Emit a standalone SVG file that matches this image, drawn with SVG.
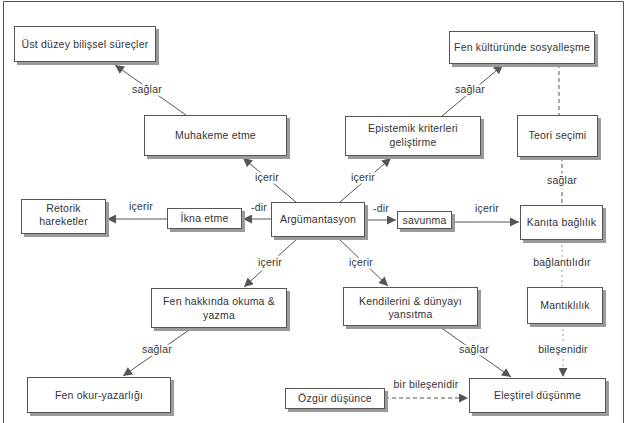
<svg xmlns="http://www.w3.org/2000/svg" width="627" height="423" viewBox="0 0 627 423">
<defs>
<marker id="arr" viewBox="0 0 10 10" refX="10" refY="5" markerWidth="11" markerHeight="9" markerUnits="userSpaceOnUse" orient="auto">
<path d="M0,0 L10,5 L0,10 z" fill="#555"/>
</marker>
<style>
.sh{fill:#9a9a9a}
.bx{fill:#fff;stroke:#555;stroke-width:1}
.t{font-family:"Liberation Sans",Arial,sans-serif;font-size:10.5px;letter-spacing:0.2px;fill:#333;text-anchor:middle}
.lb{font-family:"Liberation Sans",Arial,sans-serif;font-size:10.5px;letter-spacing:0.2px;fill:#333;text-anchor:middle;stroke:#fff;stroke-width:5;paint-order:stroke;stroke-linejoin:round}
.ln{fill:none;stroke:#555;stroke-width:1}
.ds{fill:none;stroke:#555;stroke-width:1;stroke-dasharray:4,3}
.dt{fill:none;stroke:#999;stroke-width:1;stroke-dasharray:2,3}
</style>
</defs>
<rect x="0" y="0" width="627" height="423" fill="#fff"/>
<path d="M3.5,425 V1.5 H623.5 V425" fill="none" stroke="#555" stroke-width="1"/>

<g id="connectors">
<line class="ln" x1="186" y1="115" x2="115" y2="65" marker-end="url(#arr)"/>
<text class="lb" x="147" y="93">sağlar</text>
<line class="ln" x1="296" y1="202" x2="243" y2="158" marker-end="url(#arr)"/>
<text class="lb" x="267" y="181">içerir</text>
<line class="ln" x1="340" y1="202" x2="391" y2="158" marker-end="url(#arr)"/>
<text class="lb" x="363" y="181">içerir</text>
<line class="ln" x1="442" y1="116" x2="503" y2="65" marker-end="url(#arr)"/>
<text class="lb" x="470" y="93">sağlar</text>
<line class="ds" x1="559" y1="64" x2="559" y2="115"/>
<line class="ds" x1="562" y1="157" x2="562" y2="205"/>
<text class="lb" x="562" y="184">sağlar</text>
<line class="ln" x1="271" y1="219" x2="243" y2="219" marker-end="url(#arr)"/>
<text class="lb" x="259" y="211">-dir</text>
<line class="ln" x1="167" y1="219" x2="107" y2="219" marker-end="url(#arr)"/>
<text class="lb" x="141" y="210">içerir</text>
<line class="ln" x1="365" y1="220" x2="396" y2="220" marker-end="url(#arr)"/>
<text class="lb" x="381" y="212">-dir</text>
<line class="ln" x1="452" y1="222" x2="519" y2="222" marker-end="url(#arr)"/>
<text class="lb" x="487" y="212">içerir</text>
<line class="dt" x1="562" y1="240" x2="562" y2="287"/>
<text class="lb" x="562" y="266">bağlantılıdır</text>
<line class="dt" x1="563" y1="324" x2="563" y2="377" marker-end="url(#arr)"/>
<text class="lb" x="563" y="353">bileşenidir</text>
<line class="ln" x1="298" y1="238" x2="244" y2="287" marker-end="url(#arr)"/>
<text class="lb" x="270" y="266">içerir</text>
<line class="ln" x1="338" y1="238" x2="388" y2="286" marker-end="url(#arr)"/>
<text class="lb" x="361" y="266">içerir</text>
<line class="ln" x1="192" y1="328" x2="123" y2="376" marker-end="url(#arr)"/>
<text class="lb" x="157" y="353">sağlar</text>
<line class="ln" x1="440" y1="327" x2="511" y2="377" marker-end="url(#arr)"/>
<text class="lb" x="474" y="353">sağlar</text>
<line class="ds" x1="385" y1="398" x2="468" y2="398" marker-end="url(#arr)"/>
<text class="lb" x="426" y="388">bir bileşenidir</text>
</g>

<g id="n-ust">
<rect class="sh" x="17" y="29" width="142" height="36"/>
<rect class="bx" x="14.5" y="26.5" width="141" height="35"/>
<text class="t" x="85" y="47.5">Üst düzey bilişsel süreçler</text>
</g>
<g id="n-muhakeme">
<rect class="sh" x="147" y="118" width="143" height="41"/>
<rect class="bx" x="144.5" y="115.5" width="142" height="40"/>
<text class="t" x="215.5" y="139">Muhakeme etme</text>
</g>
<g id="n-epistemik">
<rect class="sh" x="348" y="119" width="136" height="40"/>
<rect class="bx" x="345.5" y="116.5" width="135" height="39"/>
<text class="t" x="413" y="132">Epistemik kriterleri</text>
<text class="t" x="413" y="146">geliştirme</text>
</g>
<g id="n-fenkultur">
<rect class="sh" x="452" y="34" width="146" height="33"/>
<rect class="bx" x="449.5" y="31.5" width="145" height="32"/>
<text class="t" x="522" y="51">Fen kültüründe sosyalleşme</text>
</g>
<g id="n-teori">
<rect class="sh" x="520" y="118" width="81" height="42"/>
<rect class="bx" x="517.5" y="115.5" width="80" height="41"/>
<text class="t" x="557.5" y="139">Teori seçimi</text>
</g>
<g id="n-retorik">
<rect class="sh" x="24" y="202" width="85" height="35"/>
<rect class="bx" x="21.5" y="199.5" width="84" height="34"/>
<text class="t" x="63.5" y="212">Retorik</text>
<text class="t" x="63.5" y="225">hareketler</text>
</g>
<g id="n-ikna">
<rect class="sh" x="170" y="211" width="75" height="21"/>
<rect class="bx" x="167.5" y="208.5" width="74" height="20"/>
<text class="t" x="204.5" y="222">İkna etme</text>
</g>
<g id="n-arg">
<rect class="sh" x="274" y="205" width="94" height="35"/>
<rect class="bx" x="271.5" y="202.5" width="93" height="34"/>
<text class="t" x="318" y="222.5">Argümantasyon</text>
</g>
<g id="n-savunma">
<rect class="sh" x="400" y="214" width="55" height="18"/>
<rect class="bx" x="397.5" y="211.5" width="54" height="17"/>
<text class="t" x="424.5" y="223.5">savunma</text>
</g>
<g id="n-kanita">
<rect class="sh" x="523" y="208" width="83" height="35"/>
<rect class="bx" x="520.5" y="205.5" width="82" height="34"/>
<text class="t" x="561.5" y="225.5">Kanıta bağlılık</text>
</g>
<g id="n-fenhakkinda">
<rect class="sh" x="154" y="291" width="136" height="40"/>
<rect class="bx" x="151.5" y="288.5" width="135" height="39"/>
<text class="t" x="219" y="305">Fen hakkında okuma &amp;</text>
<text class="t" x="219" y="318.5">yazma</text>
</g>
<g id="n-kendilerini">
<rect class="sh" x="346" y="290" width="135" height="39"/>
<rect class="bx" x="343.5" y="287.5" width="134" height="38"/>
<text class="t" x="410.5" y="305">Kendilerini &amp; dünyayı</text>
<text class="t" x="410.5" y="317.5">yansıtma</text>
</g>
<g id="n-mantik">
<rect class="sh" x="530" y="290" width="76" height="37"/>
<rect class="bx" x="527.5" y="287.5" width="75" height="36"/>
<text class="t" x="565" y="308.5">Mantıklılık</text>
</g>
<g id="n-fenokur">
<rect class="sh" x="30" y="380" width="144" height="36"/>
<rect class="bx" x="27.5" y="377.5" width="143" height="35"/>
<text class="t" x="99" y="398.5">Fen okur-yazarlığı</text>
</g>
<g id="n-ozgur">
<rect class="sh" x="288" y="391" width="100" height="21"/>
<rect class="bx" x="285.5" y="388.5" width="99" height="20"/>
<text class="t" x="335" y="402">Özgür düşünce</text>
</g>
<g id="n-elestirel">
<rect class="sh" x="472" y="381" width="137" height="35"/>
<rect class="bx" x="469.5" y="378.5" width="136" height="34"/>
<text class="t" x="537.5" y="399">Eleştirel düşünme</text>
</g>
</svg>
